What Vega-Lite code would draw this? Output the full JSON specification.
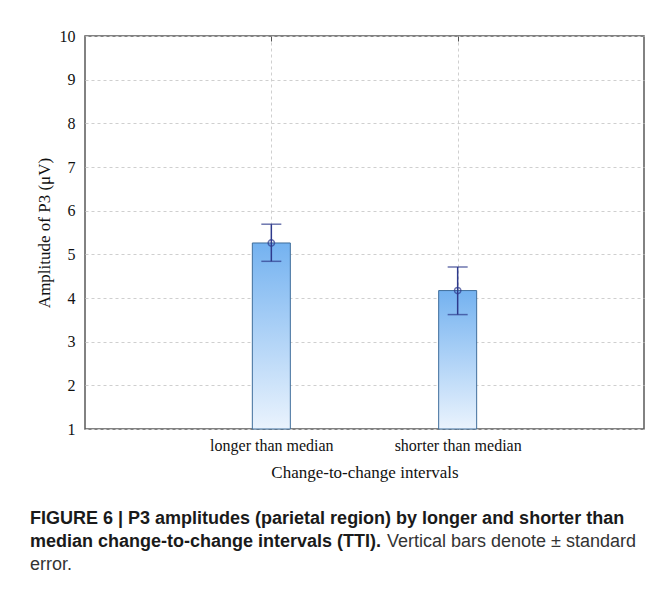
{
  "$schema": "https://vega.github.io/schema/vega-lite/v6.json",
  "width": 559,
  "height": 393,
  "autosize": "none",
  "padding": {"left": 85, "top": 36, "right": 23, "bottom": 172},
  "background": "white",
  "data": {
    "values": [
      {"cat": "longer than median", "mean": 5.26, "lo": 4.84, "hi": 5.69},
      {"cat": "shorter than median", "mean": 4.17, "lo": 3.62, "hi": 4.71}
    ]
  },
  "title": {
    "text": ["FIGURE 6 | P3 amplitudes (parietal region) by longer and shorter than", "median change-to-change intervals (TTI)."],
    "subtitle": ["\u200b\u2003\u2003\u2003\u2003\u2003\u2003\u2003\u2003\u2003\u2003\u2003\u2003\u2003\u2003\u2003\u2003\u2003\u2003\u2003\u00a0\u00a0\u00a0Vertical bars denote ± standard", "error."],
    "orient": "bottom",
    "anchor": "start",
    "frame": "group",
    "dx": -55,
    "offset": 30,
    "font": "Liberation Sans",
    "fontSize": 18,
    "fontWeight": "bold",
    "lineHeight": 23,
    "color": "#1a1a1a",
    "subtitleFont": "Liberation Sans",
    "subtitleFontSize": 18,
    "subtitleFontWeight": "normal",
    "subtitleLineHeight": 23,
    "subtitleColor": "#333333",
    "subtitlePadding": -18
  },
  "layer": [
    {
      "mark": {
        "type": "bar",
        "size": 38,
        "color": {
          "gradient": "linear",
          "x1": 0, "y1": 0, "x2": 0, "y2": 1,
          "stops": [
            {"offset": 0, "color": "#74b2f0"},
            {"offset": 1, "color": "#eaf3fd"}
          ]
        },
        "stroke": "#3f6e9c",
        "strokeWidth": 1
      },
      "encoding": {
        "x": {
          "field": "cat", "type": "nominal", "sort": null,
          "scale": {"type": "point", "padding": 1},
          "title": "Change-to-change intervals",
          "axis": {"orient": "bottom", "labelAngle": 0, "grid": true, "ticks": true, "tickSize": -5, "labelPadding": 13, "titlePadding": 11}
        },
        "y": {
          "field": "mean", "type": "quantitative",
          "scale": {"domain": [1, 10], "nice": false, "zero": false},
          "title": "Amplitude of P3 (μV)",
          "axis": {"values": [1, 2, 3, 4, 5, 6, 7, 8, 9, 10]}
        },
        "y2": {"datum": 1}
      }
    },
    {
      "mark": {"type": "rule", "color": "#2e3a8c", "strokeWidth": 1.5},
      "encoding": {
        "x": {
          "field": "cat", "type": "nominal", "sort": null,
          "axis": {"orient": "top", "labels": false, "title": null, "grid": false, "ticks": true, "tickSize": -5}
        },
        "y": {"field": "lo", "type": "quantitative", "title": "Amplitude of P3 (μV)"},
        "y2": {"field": "hi"}
      }
    },
    {
      "mark": {"type": "tick", "color": "#2e3a8c", "size": 20, "thickness": 1.5},
      "encoding": {
        "x": {"field": "cat", "type": "nominal", "sort": null, "axis": null},
        "y": {"field": "lo", "type": "quantitative", "title": "Amplitude of P3 (μV)"}
      }
    },
    {
      "mark": {"type": "tick", "color": "#2e3a8c", "size": 20, "thickness": 1.5},
      "encoding": {
        "x": {"field": "cat", "type": "nominal", "sort": null, "axis": null},
        "y": {"field": "hi", "type": "quantitative", "title": "Amplitude of P3 (μV)"}
      }
    },
    {
      "mark": {"type": "point", "shape": "circle", "filled": false, "size": 40, "color": "#2e3a8c", "strokeWidth": 1.5},
      "encoding": {
        "x": {"field": "cat", "type": "nominal", "sort": null, "axis": null},
        "y": {"field": "mean", "type": "quantitative", "title": "Amplitude of P3 (μV)"}
      }
    }
  ],
  "resolve": {"axis": {"x": "independent"}},
  "config": {
    "view": {"stroke": "#5a5a5a", "strokeWidth": 1.5},
    "axis": {
      "labelFont": "Liberation Serif",
      "titleFont": "Liberation Serif",
      "labelFontSize": 16,
      "titleFontSize": 17,
      "labelColor": "#111111",
      "titleColor": "#111111",
      "titleFontWeight": "normal",
      "domain": false,
      "gridColor": "#cfcfcf",
      "gridDash": [3, 3],
      "gridWidth": 1,
      "tickColor": "#555555"
    },
    "axisY": {"ticks": false, "labelPadding": 10, "titlePadding": 6, "grid": true}
  }
}
